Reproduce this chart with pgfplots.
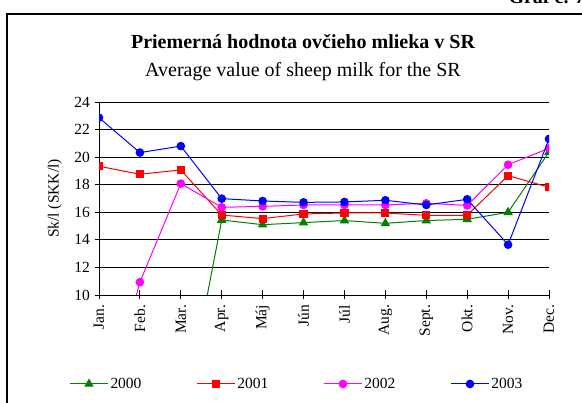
\documentclass[border=0pt]{standalone}
\usepackage{pgfplots}
\pgfplotsset{compat=1.18}
\usepackage{fontspec}
\setmainfont{Liberation Serif}

\definecolor{dgreen}{RGB}{0,128,0}
\definecolor{mgnt}{RGB}{255,0,255}

\newcommand{\tickfont}{\fontsize{15.5}{18}\selectfont}

\begin{document}
\begin{tikzpicture}
\path[use as bounding box] (0pt,0pt) rectangle (582pt,-403pt);
% frame of the chart
\draw[line width=1.6pt] (7pt,-420pt) -- (7pt,-14pt) -- (600pt,-14pt);
\node[anchor=base west,font=\fontsize{20}{22}\selectfont\bfseries] at (505pt,-3.3pt) {Graf č. 7};

\node[anchor=base,font=\fontsize{20}{22}\selectfont\bfseries] at (303pt,-49pt) {Priemerná hodnota ovčieho mlieka v SR};
\node[anchor=base,font=\fontsize{20}{22}\selectfont] at (303pt,-76.5pt) {Average value of sheep milk for the SR};

\begin{axis}[
    at={(99pt,-295pt)}, anchor=south west,
    scale only axis,
    width=450pt, height=193pt,
    xmin=0, xmax=11,
    ymin=10, ymax=24,
    xtick={0,1,2,3,4,5,6,7,8,9,10,11},
    xticklabels={Jan., Feb., Mar., Apr., Máj, Jún, Júl, Aug., Sept., Okt., Nov., Dec.},
    ytick={10,12,14,16,18,20,22,24},
    axis x line*=bottom,
    axis y line*=left,
    ymajorgrids=true,
    grid style={black, line width=0.8pt},
    axis line style={black, line width=0.9pt},
    tick style={black, line width=0.9pt},
    tick align=center,
    major tick length=9pt,
    /pgf/number format/assume math mode=true,
    tick label style={font=\tickfont},
    xticklabel style={rotate=90, anchor=east, xshift=-2pt},
    yticklabel style={xshift=-1pt},
    ylabel={Sk/l (SKK/l)},
    ylabel style={at={(axis description cs:-0.098,0.5)}, anchor=center, font=\fontsize{15.5}{18}\selectfont},
    clip marker paths=true,
    every axis plot/.append style={line width=1pt},
    legend columns=4,
    legend style={at={(axis description cs:0.44,-0.461)}, anchor=center, draw=none, fill=none,
        font=\tickfont,
        /tikz/every even column/.append style={column sep=53pt}},
    legend image code/.code={
        \draw[mark repeat=2,mark phase=2,#1] plot coordinates {(0pt,0pt)(19pt,0pt)(38pt,0pt)};
    },
]
\addplot[color=dgreen, mark=triangle*, mark size=4.5pt, mark options={fill=dgreen}]
    coordinates {
    (0,0)(1,0)(2,0)(3,15.44)(4,15.10)(5,15.25)(6,15.40)(7,15.20)(8,15.40)(9,15.49)(10,16.00)(11,20.37)
    };
\addplot[color=red, mark=square*, mark size=3.6pt, mark options={fill=red}]
    coordinates {
    (0,19.34)(1,18.76)(2,19.07)(3,15.80)(4,15.54)(5,15.88)(6,15.95)(7,15.95)(8,15.78)(9,15.78)(10,18.66)(11,17.81)
    };
\addplot[color=mgnt, mark=*, mark size=3.8pt, mark options={fill=mgnt}]
    coordinates {
    (0,0)(1,10.93)(2,18.08)(3,16.36)(4,16.43)(5,16.53)(6,16.53)(7,16.53)(8,16.65)(9,16.50)(10,19.45)(11,20.64)
    };
\addplot[color=blue, mark=*, mark size=3.8pt, mark options={fill=blue}]
    coordinates {
    (0,22.86)(1,20.33)(2,20.80)(3,16.99)(4,16.82)(5,16.72)(6,16.75)(7,16.87)(8,16.53)(9,16.94)(10,13.65)(11,21.32)
    };
\legend{2000, 2001, 2002, 2003}
\end{axis}
\end{tikzpicture}
\end{document}
